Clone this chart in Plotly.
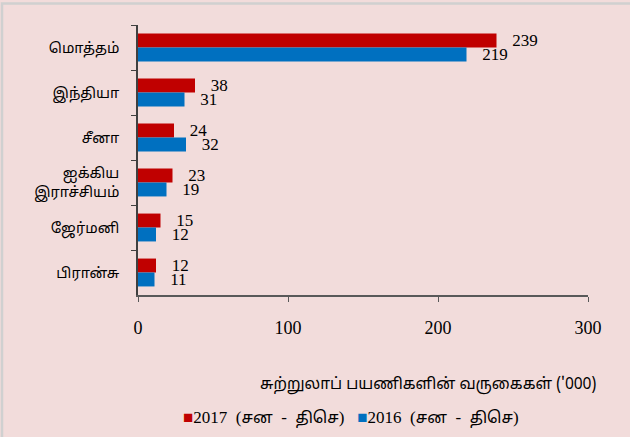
import plotly.graph_objects as go

categories = ["மொத்தம்", "இந்தியா", "சீனா", "ஐக்கிய<br>இராச்சியம்", "ஜேர்மனி", "பிரான்சு"]
values_2017 = [239, 38, 24, 23, 15, 12]
values_2016 = [219, 31, 32, 19, 12, 11]
series_years = ["2017", "2016"]
series_period = "(சன - திசெ)"
x_ticks = [0, 100, 200, 300]
axis_title = "சுற்றுலாப் பயணிகளின் வருகைகள் ('000)"

RED = "#C00000"
BLUE = "#0070C0"
BG = "#F2DCDB"
SERIF = "Liberation Serif, Times New Roman, serif"
TAMIL = "Noto Sans Tamil, Latha, Lohit Tamil, Noto Sans, sans-serif"

W, H = 630, 437
ML, MR, MT, MB = 138, 42, 25, 142

fig = go.Figure()
for year, vals, col in [(series_years[0], values_2017, RED), (series_years[1], values_2016, BLUE)]:
    fig.add_trace(go.Bar(
        y=categories, x=vals, orientation="h", name=f"{year} {series_period}",
        marker=dict(color=col, line=dict(width=0)),
        text=vals, texttemplate="\u00a0\u00a0\u00a0%{x}", textposition="outside",
        textfont=dict(family=SERIF, size=17, color="#000000"),
        cliponaxis=False, constraintext="none", showlegend=False,
    ))

fig.update_layout(
    width=W, height=H,
    margin=dict(l=ML, r=MR, t=MT, b=MB, autoexpand=False),
    paper_bgcolor=BG, plot_bgcolor=BG,
    barmode="group", bargap=0.38, bargroupgap=0,
    xaxis=dict(range=[0, 300], tickvals=x_ticks, showgrid=False, zeroline=False,
               showline=True, linecolor="#595959", linewidth=1.5,
               ticks="outside", ticklen=5, tickcolor="#595959",
               ticklabelstandoff=11, automargin=False,
               tickfont=dict(family=SERIF, size=18, color="#000000")),
    yaxis=dict(autorange="reversed", showgrid=False, zeroline=False,
               showline=True, linecolor="#404040", linewidth=1.5,
               ticks="outside", ticklen=5, tickcolor="#404040", tickson="boundaries",
               ticklabelstandoff=14, automargin=False,
               tickfont=dict(family=TAMIL, size=14.5, color="#000000")),
)

pw = W - ML - MR
ph = H - MT - MB
def px_x(p):
    return (p - ML) / pw
def px_y(p):
    return 1 - (p - MT) / ph

fig.add_annotation(text=axis_title, xref="paper", yref="paper",
                   x=px_x(598), y=px_y(385), xanchor="right", yanchor="middle",
                   showarrow=False, font=dict(family=TAMIL, size=15.5, color="#000000"))

NB = "\u00a0"
def legend_item(year, col):
    parts = series_period.strip("()").split(" - ")
    tam = f"font-family:{TAMIL.split(',')[0]};font-size:16px"
    return (f"<span style='color:{col}'>■</span>{year}{NB*2}"
            f"(<span style='{tam}'>{parts[0]}</span>{NB*2}-{NB*2}"
            f"<span style='{tam}'>{parts[1]}</span>)")

legend_text = legend_item(series_years[0], RED) + NB * 3 + legend_item(series_years[1], BLUE)
fig.add_annotation(text=legend_text, xref="paper", yref="paper",
                   x=px_x(181), y=px_y(418), xanchor="left", yanchor="middle",
                   showarrow=False, font=dict(family=SERIF, size=17, color="#000000"))

# light grey frame at top and left edge
fig.add_shape(type="rect", xref="paper", yref="paper",
              x0=px_x(2), x1=px_x(W + 5), y0=px_y(H + 5), y1=px_y(3.5),
              line=dict(color="#D0D0D0", width=2.5), fillcolor="rgba(0,0,0,0)", layer="below")

fig.write_html("out.html", config={"displayModeBar": False},
               post_script="document.body.style.margin='0';document.body.style.overflow='hidden';")
